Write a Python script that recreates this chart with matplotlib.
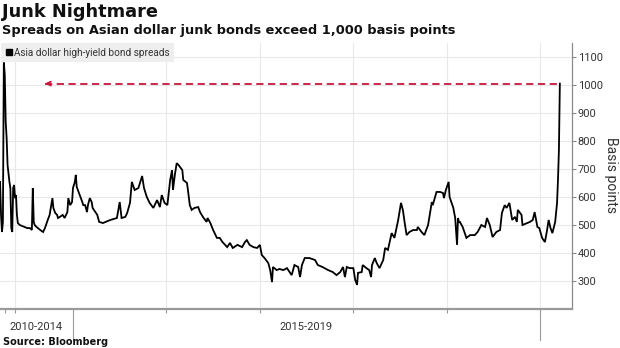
import matplotlib
matplotlib.use("Agg")
import matplotlib.pyplot as plt
from matplotlib.lines import Line2D

# ---- data (decimal years, basis points) ----
years = [
    2014.22, 2014.23, 2014.24, 2014.25, 2014.26, 2014.27, 2014.28, 2014.29, 2014.30, 2014.32,
    2014.33, 2014.34, 2014.35, 2014.36, 2014.37, 2014.38, 2014.39, 2014.40, 2014.41, 2014.43,
    2014.46, 2014.51, 2014.54, 2014.56, 2014.57, 2014.58, 2014.59, 2014.61, 2014.65, 2014.68,
    2014.70, 2014.73, 2014.75, 2014.78, 2014.79, 2014.81, 2014.83, 2014.84, 2014.86, 2014.89,
    2014.91, 2014.94, 2014.95, 2014.97, 2014.99, 2015.00, 2015.02, 2015.03, 2015.04, 2015.06,
    2015.10, 2015.11, 2015.13, 2015.15, 2015.16, 2015.18, 2015.20, 2015.21, 2015.26, 2015.28,
    2015.32, 2015.40, 2015.47, 2015.50, 2015.52, 2015.56, 2015.58, 2015.61, 2015.63, 2015.66,
    2015.70, 2015.74, 2015.76, 2015.79, 2015.82, 2015.86, 2015.90, 2015.93, 2015.95, 2015.98,
    2016.01, 2016.04, 2016.06, 2016.07, 2016.09, 2016.11, 2016.13, 2016.17, 2016.18, 2016.22,
    2016.23, 2016.25, 2016.27, 2016.30, 2016.34, 2016.36, 2016.39, 2016.43, 2016.44, 2016.47,
    2016.50, 2016.54,
    2016.57, 2016.60, 2016.65, 2016.68, 2016.71, 2016.76, 2016.81, 2016.84, 2016.86, 2016.89,
    2016.93, 2016.97, 2017.00, 2017.02, 2017.05, 2017.09, 2017.11, 2017.13, 2017.14, 2017.18,
    2017.21, 2017.25, 2017.29, 2017.34, 2017.37, 2017.41, 2017.43, 2017.45, 2017.48, 2017.53,
    2017.59, 2017.62, 2017.67, 2017.73, 2017.78, 2017.82, 2017.86,
    2017.89, 2017.91, 2017.93, 2017.96, 2018.00, 2018.02, 2018.04, 2018.05, 2018.09, 2018.10,
    2018.14, 2018.17, 2018.19, 2018.20, 2018.23, 2018.25, 2018.28, 2018.32, 2018.34, 2018.37,
    2018.41, 2018.44, 2018.48, 2018.51, 2018.53, 2018.55, 2018.57, 2018.60, 2018.64, 2018.68,
    2018.69, 2018.73, 2018.76, 2018.80, 2018.84, 2018.85, 2018.89, 2018.93, 2018.96, 2018.97,
    2018.99, 2019.02, 2019.03, 2019.07, 2019.09, 2019.11, 2019.12, 2019.13,
    2019.14, 2019.17, 2019.21, 2019.25, 2019.30, 2019.33, 2019.37, 2019.41, 2019.43, 2019.46,
    2019.49, 2019.53, 2019.57, 2019.59, 2019.62, 2019.64, 2019.67, 2019.70, 2019.73, 2019.75,
    2019.76, 2019.80, 2019.81, 2019.86, 2019.89, 2019.92, 2019.94, 2019.97, 2019.99, 2020.02,
    2020.05, 2020.07, 2020.09, 2020.11, 2020.13, 2020.16, 2020.18, 2020.19, 2020.20, 2020.21,
]
spreads = [
    654, 536, 475, 511, 1080, 1036, 868, 811, 714, 654,
    632, 489, 475, 632, 643, 596, 607, 536, 507, 500,
    496, 489, 489, 482, 632, 511, 500, 493, 482, 475,
    489, 518, 536, 596, 561, 543, 536, 525, 529, 536,
    525, 546, 596, 571, 582, 632, 654, 679, 636, 618,
    582, 571, 571, 546, 571, 596, 582, 561, 536, 511,
    507, 518, 525, 582, 525, 529, 543, 579, 654, 625,
    632, 675, 632, 600, 579, 561, 589, 564, 607, 579,
    571, 661, 696, 625, 679, 721, 714, 696, 661, 650,
    625, 571, 554, 561, 564, 546, 529, 511, 525, 507,
    482, 454,
    454, 439, 421, 436, 418, 429, 421, 439, 446, 429,
    421, 418, 429, 393, 382, 364, 339, 296, 350, 339,
    343, 339, 346, 321, 357, 350, 314, 357, 382, 382,
    375, 357, 350, 339, 332, 321, 332,
    350, 314, 350, 346, 346, 304, 286, 329, 332, 357,
    346, 339, 314, 357, 382, 364, 346, 375, 418, 411,
    471, 454, 518, 579, 554, 507, 464, 475, 482, 482,
    493, 475, 464, 500, 582, 571, 618, 618, 614, 596,
    625, 654, 600, 561, 525, 429, 525, 511,
    511, 493, 454, 464, 464, 475, 500, 493, 525, 500,
    457, 475, 482, 543, 571, 561, 579, 518, 529, 511,
    554, 536, 500, 507, 511, 518, 546, 493, 489, 454,
    439, 475, 518, 489, 471, 511, 579, 661, 768, 1005,
]

y_ticks = [300, 400, 500, 600, 700, 800, 900, 1000, 1100]
period_labels = ["2010-2014", "2015-2019"]
period_bounds = [2015, 2020]
grid_years = [2014.38, 2016, 2017, 2018, 2019, 2020]
arrow_tail_year = 2014.70
title = "Junk Nightmare"
subtitle = "Spreads on Asian dollar junk bonds exceed 1,000 basis points"
series_name = "Asia dollar high-yield bond spreads"

W, H = 620, 348
fig = plt.figure(figsize=(W / 100, H / 100), dpi=100)
fig.patch.set_facecolor("white")
ax = fig.add_axes([0, 1 - 309 / H, 572 / W, (309 - 43) / H])

narrow = ["Liberation Sans Narrow", "Roboto", "DejaVu Sans"]

ax.plot(years, spreads, color="black", lw=1.3, solid_joinstyle="miter", zorder=3)
ax.set_xlim(2014.219, 2020.34)
ax.set_ylim(200, 1150)

# axes styling
for s in ["left", "top"]:
    ax.spines[s].set_visible(False)
ax.spines["right"].set_color("#8a8a8a")
ax.spines["right"].set_linewidth(0.9)
ax.spines["bottom"].set_color("#9a9a9a")
ax.spines["bottom"].set_linewidth(1.6)

ax.yaxis.tick_right()
ax.set_yticks(y_ticks)
ax.set_yticklabels([str(v) for v in y_ticks], fontfamily=narrow, fontsize=8, color="#333333")
ax.tick_params(axis="y", length=3, width=0.8, color="#8a8a8a", pad=1)
ax.grid(axis="y", color="#e8e8e8", lw=0.8, zorder=0)

ax.set_xticks(grid_years)
ax.set_xticklabels([])
ax.tick_params(axis="x", length=3, width=0.8, color="#9a9a9a")
ax.grid(axis="x", color="#e8e8e8", lw=0.8, zorder=0)
ax.set_xticks([2014.27], minor=True)
ax.tick_params(axis="x", which="minor", length=3, width=0.8, color="#9a9a9a")

# period separators below axis
xt = ax.get_xaxis_transform()
for b in period_bounds:
    ax.plot([b, b], [0, -0.117], transform=xt, color="#9a9a9a", lw=0.8, clip_on=False)

# period labels
fig.text(36 / W, 1 - 327 / H, period_labels[0], ha="center", va="center",
         fontfamily=narrow, fontsize=8, color="#333333")
fig.text(306 / W, 1 - 327 / H, period_labels[1], ha="center", va="center",
         fontfamily=narrow, fontsize=8, color="#333333")

# dashed red arrow at the latest level
red = "#c8163c"
ax.plot([arrow_tail_year, years[-1]], [spreads[-1], spreads[-1]], color=red, lw=1.3,
        ls=(0, (4, 2.5)), zorder=2)
ax.annotate("", xy=(arrow_tail_year, spreads[-1]), xytext=(arrow_tail_year + 0.05, spreads[-1]),
            arrowprops=dict(arrowstyle="->", color=red, lw=1.3, mutation_scale=7,
                            shrinkA=0, shrinkB=0))

# legend
leg = ax.legend([Line2D([], [], marker="s", color="black", ls="", ms=4)], [series_name],
                loc="upper left", bbox_to_anchor=(0.002, 1.0), frameon=True, fancybox=False,
                framealpha=1, facecolor="#eeeeee", edgecolor="#eeeeee",
                prop={"family": narrow, "size": 7.2}, handlelength=0.6, handletextpad=0.2,
                borderpad=0.45, borderaxespad=0)
leg.get_frame().set_linewidth(0)
for t in leg.get_texts():
    t.set_color("#333333")

# axis label
fig.text(611 / W, 1 - 175 / H, "Basis points", rotation=270, ha="center", va="center",
         fontfamily=narrow, fontsize=10, color="#333333")

# titles
fig.text(2 / W, 1 - 3 / H, title, ha="left", va="top", fontsize=12.8, fontweight="bold",
         fontfamily="DejaVu Sans", color="#111111")
fig.text(2 / W, 1 - 24 / H, subtitle, ha="left", va="top", fontsize=9.4, fontweight="bold",
         fontfamily="DejaVu Sans", color="#111111")
fig.text(3 / W, 1 - 342 / H, "Source: Bloomberg", ha="left", va="center", fontsize=7,
         fontweight="bold", fontfamily="DejaVu Sans", color="#111111")

fig.savefig("out.png", dpi=100, facecolor="white")
